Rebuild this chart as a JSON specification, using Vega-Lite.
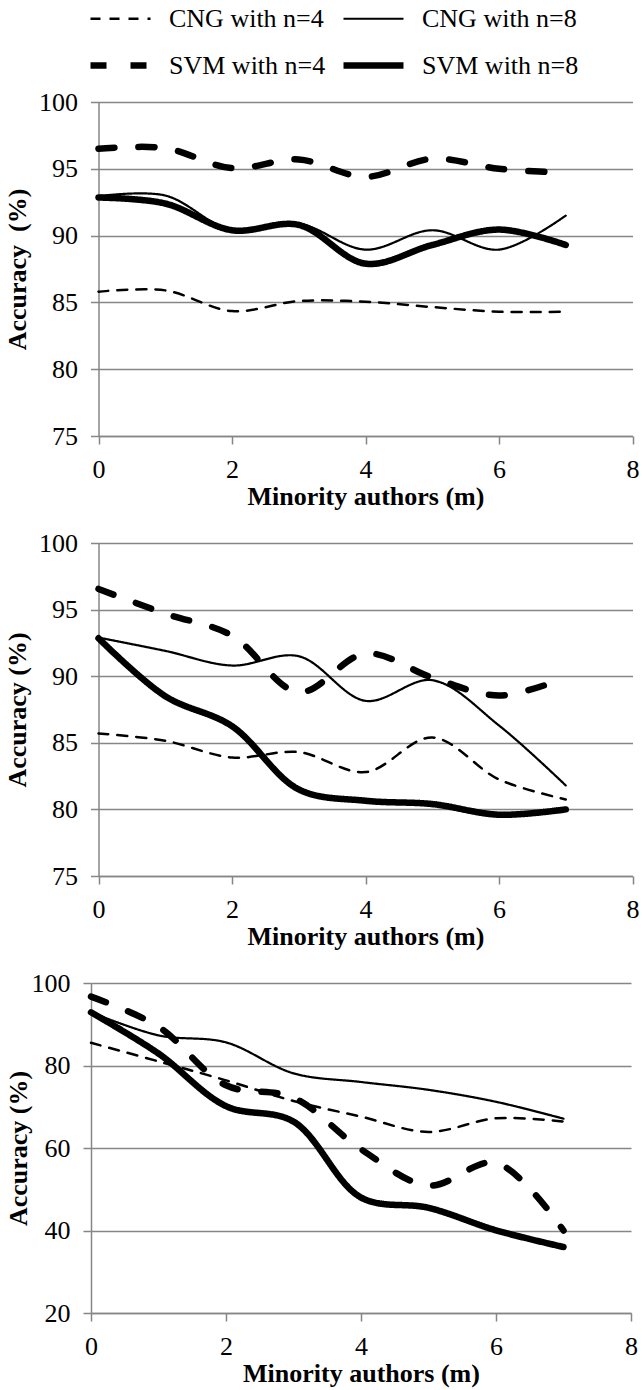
{
  "$schema": "https://vega.github.io/schema/vega-lite/v6.json",
  "autosize": {"type": "pad"},
  "padding": {"left": 4, "top": -13, "right": 2, "bottom": 2},
  "background": "white",
  "data": {"values": [
    {"panel": 1, "m": 0, "series": "CNG with n=4", "acc": 85.8},
    {"panel": 1, "m": 1, "series": "CNG with n=4", "acc": 85.9},
    {"panel": 1, "m": 2, "series": "CNG with n=4", "acc": 84.35},
    {"panel": 1, "m": 3, "series": "CNG with n=4", "acc": 85.1},
    {"panel": 1, "m": 4, "series": "CNG with n=4", "acc": 85.05},
    {"panel": 1, "m": 5, "series": "CNG with n=4", "acc": 84.65},
    {"panel": 1, "m": 6, "series": "CNG with n=4", "acc": 84.3},
    {"panel": 1, "m": 7, "series": "CNG with n=4", "acc": 84.3},
    {"panel": 1, "m": 0, "series": "CNG with n=8", "acc": 92.95},
    {"panel": 1, "m": 1, "series": "CNG with n=8", "acc": 93.0},
    {"panel": 1, "m": 2, "series": "CNG with n=8", "acc": 90.4},
    {"panel": 1, "m": 3, "series": "CNG with n=8", "acc": 90.9},
    {"panel": 1, "m": 4, "series": "CNG with n=8", "acc": 88.95},
    {"panel": 1, "m": 5, "series": "CNG with n=8", "acc": 90.4},
    {"panel": 1, "m": 6, "series": "CNG with n=8", "acc": 88.95},
    {"panel": 1, "m": 7, "series": "CNG with n=8", "acc": 91.5},
    {"panel": 1, "m": 0, "series": "SVM with n=4", "acc": 96.5},
    {"panel": 1, "m": 1, "series": "SVM with n=4", "acc": 96.55},
    {"panel": 1, "m": 2, "series": "SVM with n=4", "acc": 95.05},
    {"panel": 1, "m": 3, "series": "SVM with n=4", "acc": 95.7},
    {"panel": 1, "m": 4, "series": "SVM with n=4", "acc": 94.4},
    {"panel": 1, "m": 5, "series": "SVM with n=4", "acc": 95.75},
    {"panel": 1, "m": 6, "series": "SVM with n=4", "acc": 95.0},
    {"panel": 1, "m": 7, "series": "SVM with n=4", "acc": 94.7},
    {"panel": 1, "m": 0, "series": "SVM with n=8", "acc": 92.85},
    {"panel": 1, "m": 1, "series": "SVM with n=8", "acc": 92.4},
    {"panel": 1, "m": 2, "series": "SVM with n=8", "acc": 90.4},
    {"panel": 1, "m": 3, "series": "SVM with n=8", "acc": 90.8},
    {"panel": 1, "m": 4, "series": "SVM with n=8", "acc": 87.9},
    {"panel": 1, "m": 5, "series": "SVM with n=8", "acc": 89.3},
    {"panel": 1, "m": 6, "series": "SVM with n=8", "acc": 90.45},
    {"panel": 1, "m": 7, "series": "SVM with n=8", "acc": 89.3},
    {"panel": 2, "m": 0, "series": "CNG with n=4", "acc": 85.7},
    {"panel": 2, "m": 1, "series": "CNG with n=4", "acc": 85.15},
    {"panel": 2, "m": 2, "series": "CNG with n=4", "acc": 83.9},
    {"panel": 2, "m": 3, "series": "CNG with n=4", "acc": 84.3},
    {"panel": 2, "m": 4, "series": "CNG with n=4", "acc": 82.8},
    {"panel": 2, "m": 5, "series": "CNG with n=4", "acc": 85.4},
    {"panel": 2, "m": 6, "series": "CNG with n=4", "acc": 82.25},
    {"panel": 2, "m": 7, "series": "CNG with n=4", "acc": 80.75},
    {"panel": 2, "m": 0, "series": "CNG with n=8", "acc": 92.9},
    {"panel": 2, "m": 1, "series": "CNG with n=8", "acc": 91.9},
    {"panel": 2, "m": 2, "series": "CNG with n=8", "acc": 90.8},
    {"panel": 2, "m": 3, "series": "CNG with n=8", "acc": 91.5},
    {"panel": 2, "m": 4, "series": "CNG with n=8", "acc": 88.15},
    {"panel": 2, "m": 5, "series": "CNG with n=8", "acc": 89.7},
    {"panel": 2, "m": 6, "series": "CNG with n=8", "acc": 86.3},
    {"panel": 2, "m": 7, "series": "CNG with n=8", "acc": 81.8},
    {"panel": 2, "m": 0, "series": "SVM with n=4", "acc": 96.55},
    {"panel": 2, "m": 1, "series": "SVM with n=4", "acc": 94.7},
    {"panel": 2, "m": 2, "series": "SVM with n=4", "acc": 93.05},
    {"panel": 2, "m": 3, "series": "SVM with n=4", "acc": 88.8},
    {"panel": 2, "m": 4, "series": "SVM with n=4", "acc": 91.7},
    {"panel": 2, "m": 5, "series": "SVM with n=4", "acc": 89.9},
    {"panel": 2, "m": 6, "series": "SVM with n=4", "acc": 88.55},
    {"panel": 2, "m": 7, "series": "SVM with n=4", "acc": 89.9},
    {"panel": 2, "m": 0, "series": "SVM with n=8", "acc": 92.85},
    {"panel": 2, "m": 1, "series": "SVM with n=8", "acc": 88.5},
    {"panel": 2, "m": 2, "series": "SVM with n=8", "acc": 86.25},
    {"panel": 2, "m": 3, "series": "SVM with n=8", "acc": 81.5},
    {"panel": 2, "m": 4, "series": "SVM with n=8", "acc": 80.65},
    {"panel": 2, "m": 5, "series": "SVM with n=8", "acc": 80.4},
    {"panel": 2, "m": 6, "series": "SVM with n=8", "acc": 79.6},
    {"panel": 2, "m": 7, "series": "SVM with n=8", "acc": 80.0},
    {"panel": 3, "m": 0, "series": "CNG with n=4", "acc": 85.5},
    {"panel": 3, "m": 1, "series": "CNG with n=4", "acc": 81.0},
    {"panel": 3, "m": 2, "series": "CNG with n=4", "acc": 76.4},
    {"panel": 3, "m": 3, "series": "CNG with n=4", "acc": 71.4},
    {"panel": 3, "m": 4, "series": "CNG with n=4", "acc": 67.6},
    {"panel": 3, "m": 5, "series": "CNG with n=4", "acc": 63.9},
    {"panel": 3, "m": 6, "series": "CNG with n=4", "acc": 67.2},
    {"panel": 3, "m": 7, "series": "CNG with n=4", "acc": 66.4},
    {"panel": 3, "m": 0, "series": "CNG with n=8", "acc": 92.9},
    {"panel": 3, "m": 1, "series": "CNG with n=8", "acc": 87.3},
    {"panel": 3, "m": 2, "series": "CNG with n=8", "acc": 85.6},
    {"panel": 3, "m": 3, "series": "CNG with n=8", "acc": 78.1},
    {"panel": 3, "m": 4, "series": "CNG with n=8", "acc": 76.0},
    {"panel": 3, "m": 5, "series": "CNG with n=8", "acc": 74.1},
    {"panel": 3, "m": 6, "series": "CNG with n=8", "acc": 71.2},
    {"panel": 3, "m": 7, "series": "CNG with n=8", "acc": 67.1},
    {"panel": 3, "m": 0, "series": "SVM with n=4", "acc": 96.7},
    {"panel": 3, "m": 1, "series": "SVM with n=4", "acc": 89.4},
    {"panel": 3, "m": 2, "series": "SVM with n=4", "acc": 75.2},
    {"panel": 3, "m": 3, "series": "SVM with n=4", "acc": 72.2},
    {"panel": 3, "m": 4, "series": "SVM with n=4", "acc": 59.7},
    {"panel": 3, "m": 5, "series": "SVM with n=4", "acc": 50.9},
    {"panel": 3, "m": 6, "series": "SVM with n=4", "acc": 56.4},
    {"panel": 3, "m": 7, "series": "SVM with n=4", "acc": 40.0},
    {"panel": 3, "m": 0, "series": "SVM with n=8", "acc": 92.9},
    {"panel": 3, "m": 1, "series": "SVM with n=8", "acc": 82.9},
    {"panel": 3, "m": 2, "series": "SVM with n=8", "acc": 70.15},
    {"panel": 3, "m": 3, "series": "SVM with n=8", "acc": 66.4},
    {"panel": 3, "m": 4, "series": "SVM with n=8", "acc": 48.0},
    {"panel": 3, "m": 5, "series": "SVM with n=8", "acc": 45.5},
    {"panel": 3, "m": 6, "series": "SVM with n=8", "acc": 40.05},
    {"panel": 3, "m": 7, "series": "SVM with n=8", "acc": 36.0}
  ]},
  "spacing": 21,
  "vconcat": [
    {
      "width": 542, "height": 334,
      "transform": [{"filter": "datum.panel == 1"}],
      "mark": {"type": "line", "interpolate": "catmull-rom", "color": "black", "strokeCap": "round"},
      "encoding": {
        "x": {"field": "m", "type": "quantitative", "scale": {"domain": [0, 8], "nice": false, "range": [7.5, 541.5]}, "axis": {"values": [0, 2, 4, 6, 8], "title": "Minority authors (m)"}},
        "y": {"field": "acc", "type": "quantitative", "scale": {"domain": [75, 100], "nice": false, "zero": false}, "axis": {"values": [75, 80, 85, 90, 95, 100], "title": "Accuracy\u00a0 (%)", "titlePadding": 8, "offset": -7.5}},
        "detail": {"field": "series"},
        "strokeDash": {"field": "series", "type": "nominal", "scale": {"domain": ["CNG with n=4", "CNG with n=8", "SVM with n=4", "SVM with n=8"], "range": [[10, 9], [1, 0], [16, 24], [1, 0]]}},
        "strokeWidth": {"field": "series", "type": "nominal", "scale": {"type": "ordinal", "domain": ["CNG with n=4", "CNG with n=8", "SVM with n=4", "SVM with n=8"], "range": [2.5, 2.2, 6.5, 6.5]}}
      }
    },
    {
      "width": 542, "height": 333,
      "transform": [{"filter": "datum.panel == 2"}],
      "mark": {"type": "line", "interpolate": "catmull-rom", "color": "black", "strokeCap": "round"},
      "encoding": {
        "x": {"field": "m", "type": "quantitative", "scale": {"domain": [0, 8], "nice": false, "range": [7.5, 541.5]}, "axis": {"values": [0, 2, 4, 6, 8], "title": "Minority authors (m)"}},
        "y": {"field": "acc", "type": "quantitative", "scale": {"domain": [75, 100], "nice": false, "zero": false}, "axis": {"values": [75, 80, 85, 90, 95, 100], "title": "Accuracy (%)", "titlePadding": 8, "offset": -7.5}},
        "detail": {"field": "series"},
        "strokeDash": {"field": "series", "type": "nominal", "scale": {"domain": ["CNG with n=4", "CNG with n=8", "SVM with n=4", "SVM with n=8"], "range": [[10, 9], [1, 0], [16, 24], [1, 0]]}},
        "strokeWidth": {"field": "series", "type": "nominal", "scale": {"type": "ordinal", "domain": ["CNG with n=4", "CNG with n=8", "SVM with n=4", "SVM with n=8"], "range": [2.5, 2.2, 6.5, 6.5]}}
      }
    },
    {
      "width": 540, "height": 330,
      "transform": [{"filter": "datum.panel == 3"}],
      "mark": {"type": "line", "interpolate": "catmull-rom", "color": "black", "strokeCap": "round"},
      "encoding": {
        "x": {"field": "m", "type": "quantitative", "scale": {"domain": [0, 8], "nice": false}, "axis": {"values": [0, 2, 4, 6, 8], "title": "Minority authors (m)"}},
        "y": {"field": "acc", "type": "quantitative", "scale": {"domain": [20, 100], "nice": false, "zero": false}, "axis": {"values": [20, 40, 60, 80, 100], "title": "Accuracy (%)", "titlePadding": 0}},
        "detail": {"field": "series"},
        "strokeDash": {"field": "series", "type": "nominal", "scale": {"domain": ["CNG with n=4", "CNG with n=8", "SVM with n=4", "SVM with n=8"], "range": [[10, 9], [1, 0], [16, 24], [1, 0]]}},
        "strokeWidth": {"field": "series", "type": "nominal", "scale": {"type": "ordinal", "domain": ["CNG with n=4", "CNG with n=8", "SVM with n=4", "SVM with n=8"], "range": [2.5, 2.2, 6.5, 6.5]}}
      }
    }
  ],
  "config": {
    "view": {"stroke": null},
    "font": "Liberation Serif",
    "axis": {
      "labelFont": "Liberation Serif", "labelFontSize": 26, "labelColor": "black",
      "titleFont": "Liberation Serif", "titleFontSize": 26, "titleFontWeight": "bold", "titleColor": "black",
      "domainColor": "#868686", "tickColor": "#868686", "gridColor": "#868686",
      "domainWidth": 1.5, "tickWidth": 1.5, "gridWidth": 1.5, "tickSize": 8,
      "labelFlush": false, "labelOverlap": false
    },
    "axisX": {"grid": false, "labelPadding": 12, "titlePadding": 1},
    "axisY": {"grid": true, "labelPadding": 13},
    "legend": {
      "orient": "none", "legendX": -4, "legendY": -115,
      "columns": 2, "direction": "horizontal", "title": null,
      "labelFont": "Liberation Serif", "labelFontSize": 26, "labelColor": "black",
      "symbolType": "stroke", "symbolSize": 3600, "symbolStrokeColor": "black",
      "labelOffset": 15, "columnPadding": 4, "rowPadding": -2, "padding": 0, "labelLimit": 400
    }
  }
}
